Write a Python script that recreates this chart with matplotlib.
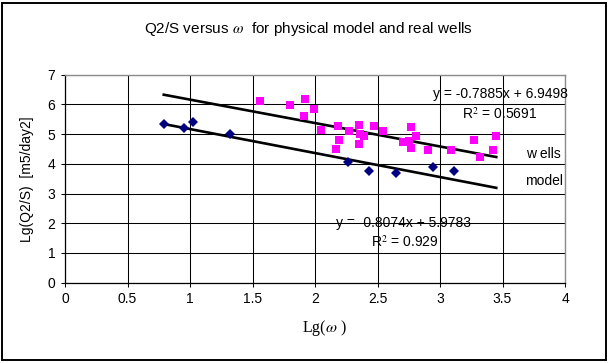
import numpy as np
import matplotlib
matplotlib.use('Agg')
import matplotlib.pyplot as plt
from matplotlib.patches import Rectangle

plt.rcParams['font.family'] = ['Liberation Sans', 'DejaVu Sans']
plt.rcParams['mathtext.fontset'] = 'stix'

# physical model (diamonds)
model_x = [0.79, 0.95, 1.02, 1.32, 2.26, 2.43, 2.65, 2.94, 3.11]
model_y = [5.35, 5.22, 5.40, 5.00, 4.07, 3.77, 3.69, 3.89, 3.77]

# real wells (squares)
wells_x = [1.56, 1.80, 1.92, 1.99, 1.91, 2.05, 2.18, 2.27, 2.35, 2.36, 2.39, 2.19, 2.35, 2.17,
           2.47, 2.54, 2.77, 2.81, 2.70, 2.75, 2.77, 2.90, 3.09, 3.27, 3.45, 3.42, 3.32]
wells_y = [6.12, 5.97, 6.17, 5.85, 5.61, 5.14, 5.29, 5.09, 5.30, 4.99, 4.93, 4.79, 4.66, 4.49,
           5.28, 5.12, 5.23, 4.94, 4.75, 4.77, 4.52, 4.47, 4.47, 4.79, 4.94, 4.47, 4.23]

# trendline coefficients (slope, intercept, R^2)
wells_fit = (-0.7885, 6.9498, 0.5691)
model_fit = (-0.8074, 5.9783, 0.929)

x_ticks = [0, 0.5, 1, 1.5, 2, 2.5, 3, 3.5, 4]
y_ticks = [0, 1, 2, 3, 4, 5, 6, 7]

fig = plt.figure(figsize=(6.09, 3.63), dpi=100)
ax = fig.add_axes([65 / 609, 1 - 282.7 / 363, 500 / 609, 208 / 363])

ax.set_xlim(0, 4)
ax.set_ylim(0, 7)
ax.set_xticks(x_ticks)
ax.set_yticks(y_ticks)
ax.set_xticklabels([f'{t:g}' for t in x_ticks])
ax.grid(True, color='black', linewidth=0.75)
ax.set_axisbelow(True)
ax.tick_params(direction='out', length=3, width=0.75, colors='black', labelsize=10, pad=4)
for side in ['top', 'right']:
    ax.spines[side].set_color('#8c8c8c')
    ax.spines[side].set_linewidth(1.0)
for side in ['left', 'bottom']:
    ax.spines[side].set_color('black')
    ax.spines[side].set_linewidth(0.9)

# trendlines span the whole data range
all_x = model_x + wells_x
xs = np.array([min(all_x), max(all_x)])
ax.plot(xs, wells_fit[0] * xs + wells_fit[1], color='black', lw=1.9, zorder=3)
ax.plot(xs, model_fit[0] * xs + model_fit[1], color='black', lw=1.9, zorder=3)

ax.plot(wells_x, wells_y, 's', color='#ff00ff', markersize=5.8, markeredgewidth=0, zorder=4)
ax.plot(model_x, model_y, 'D', color='#000080', markersize=5.4, markeredgewidth=0, zorder=4)

ax.text(3.48, 6.35, 'y = -0.7885x + 6.9498', ha='center', va='center', fontsize=10)
ax.text(3.48, 5.68, 'R$^2$ = 0.5691', ha='center', va='center', fontsize=10)
ax.text(3.83, 4.33, 'w ells', ha='center', va='center', fontsize=10)
ax.text(3.83, 3.42, 'model', ha='center', va='center', fontsize=10)
ax.text(2.71, 2.02, 'y = -0.8074x + 5.9783', ha='center', va='center', fontsize=10)
ax.text(2.72, 1.38, 'R$^2$ = 0.929', ha='center', va='center', fontsize=10)

ax.set_ylabel('Lg(Q2/S)  [m5/day2]', fontsize=10, labelpad=10)
fig.text(324 / 609, 1 - 328 / 363, 'Lg($\\omega$ )', ha='center', va='center',
         fontsize=11.5, family='Liberation Serif')
fig.text(308 / 609, 1 - 29 / 363, 'Q2/S versus $\\omega$  for physical model and real wells',
         ha='center', va='center', fontsize=11)

fig.patches.append(Rectangle((2 / 609, 3 / 363), 604 / 609, 357 / 363, transform=fig.transFigure,
                             fill=False, edgecolor='black', linewidth=1.4))

fig.savefig('out.png', dpi=100)
